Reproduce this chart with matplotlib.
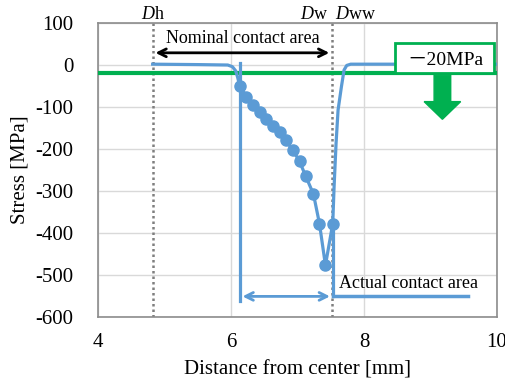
import matplotlib.pyplot as plt
from matplotlib.patches import Rectangle, FancyArrow

plt.rcParams['font.family'] = ['Liberation Serif', 'Noto Sans CJK JP', 'DejaVu Serif']
plt.rcParams['axes.unicode_minus'] = False
plt.rcParams['mathtext.fontset'] = 'custom'
plt.rcParams['mathtext.rm'] = 'Liberation Serif'
plt.rcParams['mathtext.it'] = 'Liberation Serif:italic'

# measured stress points inside the contact
px = [6.13, 6.23, 6.33, 6.44, 6.53, 6.63, 6.73, 6.82, 6.93, 7.03, 7.12, 7.24, 7.33, 7.42, 7.53]
py = [-50, -75, -94, -111, -129, -144, -160, -179, -202, -229, -263, -307, -377, -476, -377]

# smooth curve outside the measured points
lx = [4.82, 5.5, 5.95, 6.02, 6.07, 6.10, 6.13]
ly = [2, 1, 0, -4, -14, -30, -50]
rx = [7.53, 7.55, 7.58, 7.61, 7.66, 7.70, 7.74, 7.80, 8.5, 10.0]
ry = [-377, -290, -186, -107, -52, -12, -1, 2, 2, 2]

Dh, Dw, Dww = 4.82, 7.52, 7.88
blue = '#5B9BD5'
green = '#00B050'

fig = plt.figure(figsize=(5.06, 3.89), dpi=100)
ax = fig.add_axes([0.194, 0.184, 0.788, 0.757])

ax.set_xlim(4, 10)
ax.set_ylim(-600, 100)
ax.set_xticks([4, 6, 8, 10])
ax.set_yticks(range(-600, 101, 100))
ax.grid(True, color='#D9D9D9', lw=1)
ax.set_axisbelow(True)
for s in ax.spines.values():
    s.set_color('#8C8C8C')
    s.set_linewidth(1.2)
ax.tick_params(length=0, labelsize=15)
ax.tick_params(axis='y', pad=18)
ax.tick_params(axis='x', pad=11)
ax.set_xlabel('Distance from center [mm]', fontsize=15, labelpad=6)
ax.set_ylabel('Stress [MPa]', fontsize=15, labelpad=4)

# dotted boundaries
for xv in [Dh, Dw]:
    ax.axvline(xv, color='#7F7F7F', lw=1.8, ls=(0, (1, 1.2)), zorder=2)

# -20 MPa threshold
ax.axhline(-20, color=green, lw=3, zorder=3)

# stress distribution
ax.plot(lx, ly, color=blue, lw=2.3, zorder=4)
ax.plot(rx, ry, color=blue, lw=2.3, zorder=4)
ax.plot(px, py, color=blue, lw=2.3, marker='o', ms=8, zorder=5)

# actual contact area
ax.plot([px[0], px[0]], [5, -562], color=blue, lw=2.3, zorder=4)
ax.plot([px[-1], px[-1]], [py[-1], -550], color=blue, lw=2.3, zorder=4)
ax.annotate('', xy=(px[0], -550), xytext=(px[-1], -550),
            arrowprops=dict(arrowstyle='<->', color=blue, lw=2, mutation_scale=14))
ax.plot([px[-1], 9.56], [-550, -550], color=blue, lw=2.5, zorder=4)
ax.text(7.62, -520, 'Actual contact area', fontsize=13, ha='left', va='center')

# nominal contact area
ax.annotate('', xy=(Dh, 29), xytext=(Dw, 29),
            arrowprops=dict(arrowstyle='<->', color='black', lw=2, mutation_scale=14))
ax.text((Dh + Dw) / 2, 64, 'Nominal contact area', fontsize=13, ha='center', va='center')

# labels above the frame
ax.text(Dh, 119, r'$\it{D}$h', fontsize=13, ha='center', va='center', clip_on=False)
ax.text(Dw - 0.06, 119, r'$\it{D}$w', fontsize=13, ha='right', va='center', clip_on=False)
ax.text(Dww, 119, r'$\it{D}$ww', fontsize=13, ha='center', va='center', clip_on=False)

# -20MPa box and arrow
ax.add_patch(Rectangle((8.47, -18), 1.49, 71, facecolor='white', edgecolor=green, lw=2, zorder=6))
ax.text(9.22, 10, '\uff0d20MPa', fontsize=14, ha='center', va='center', zorder=7)
ax.add_patch(FancyArrow(9.18, -24, 0, -105, width=0.25, head_width=0.55, head_length=42,
                        length_includes_head=True, color=green, zorder=6))

fig.savefig('out.png', dpi=100)
